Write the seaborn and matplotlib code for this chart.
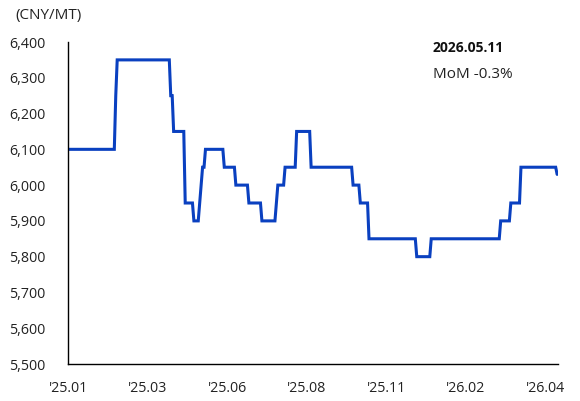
import numpy as np
import pandas as pd
import matplotlib
matplotlib.use("Agg")
import matplotlib.pyplot as plt
from matplotlib.ticker import FuncFormatter
import seaborn as sns

# Daily price as runs of constant level (CNY/MT) and run lengths (trading days)
price_levels = [6100, 6250, 6350, 6250, 6150, 5950, 5900, 5950, 6000, 6050,
                6100, 6050, 6000, 5950, 5900, 5950, 6000, 6050, 6150, 6050,
                6000, 5950, 5850, 5800, 5850, 5900, 5950, 6050, 6030]
run_lengths = [33, 1, 37, 2, 8, 6, 4, 1, 1, 2,
               13, 8, 9, 9, 10, 1, 5, 8, 10, 29,
               5, 6, 33, 10, 48, 7, 7, 25, 1]

tick_labels = ["'25.01", "'25.03", "'25.06", "'25.08", "'25.11", "'26.02", "'26.04"]
tick_step = 55

latest_date = "2026.05.11"
mom_change = "MoM -0.3%"
unit_label = "(CNY/MT)"

prices = np.repeat(price_levels, run_lengths)
df = pd.DataFrame({"day": np.arange(len(prices)), "price": prices})

sns.set_theme(style="white")
plt.rcParams["font.family"] = ["Open Sans", "DejaVu Sans"]

fig = plt.figure(figsize=(5.8, 4.01), dpi=100)
ax = fig.add_axes([68 / 580, 1 - 364 / 401, 490 / 580, 322 / 401])

sns.lineplot(data=df, x="day", y="price", ax=ax, color="#0a40c0",
             linewidth=2.2, solid_joinstyle="miter")

ax.set_xlim(0, 338.6)
ax.set_ylim(5500, 6400)
ax.set_yticks(np.arange(5500, 6401, 100))
ax.yaxis.set_major_formatter(FuncFormatter(lambda v, _: f"{int(v):,}"))
ax.set_xticks(np.arange(len(tick_labels)) * tick_step)
ax.set_xticklabels(tick_labels)
ax.set_xlabel("")
ax.set_ylabel("")

for side in ["top", "right"]:
    ax.spines[side].set_visible(False)
for side in ["left", "bottom"]:
    ax.spines[side].set_color("black")
    ax.spines[side].set_linewidth(1.0)

ax.tick_params(axis="both", direction="in", length=5, width=1, color="#444444",
               labelsize=10.3, labelcolor="#222222")
ax.tick_params(axis="y", pad=16)
ax.tick_params(axis="x", pad=12)

fig.text(15 / 580, 1 - 16 / 401, unit_label, fontsize=11, color="#222222",
         ha="left", va="center")
fig.text(433 / 580, 1 - 48 / 401, latest_date, fontsize=10, fontweight="bold",
         color="#111111", ha="left", va="center")
fig.text(433 / 580, 1 - 75 / 401, mom_change, fontsize=11, color="#222222",
         ha="left", va="center")

fig.savefig("out.png", dpi=100)
